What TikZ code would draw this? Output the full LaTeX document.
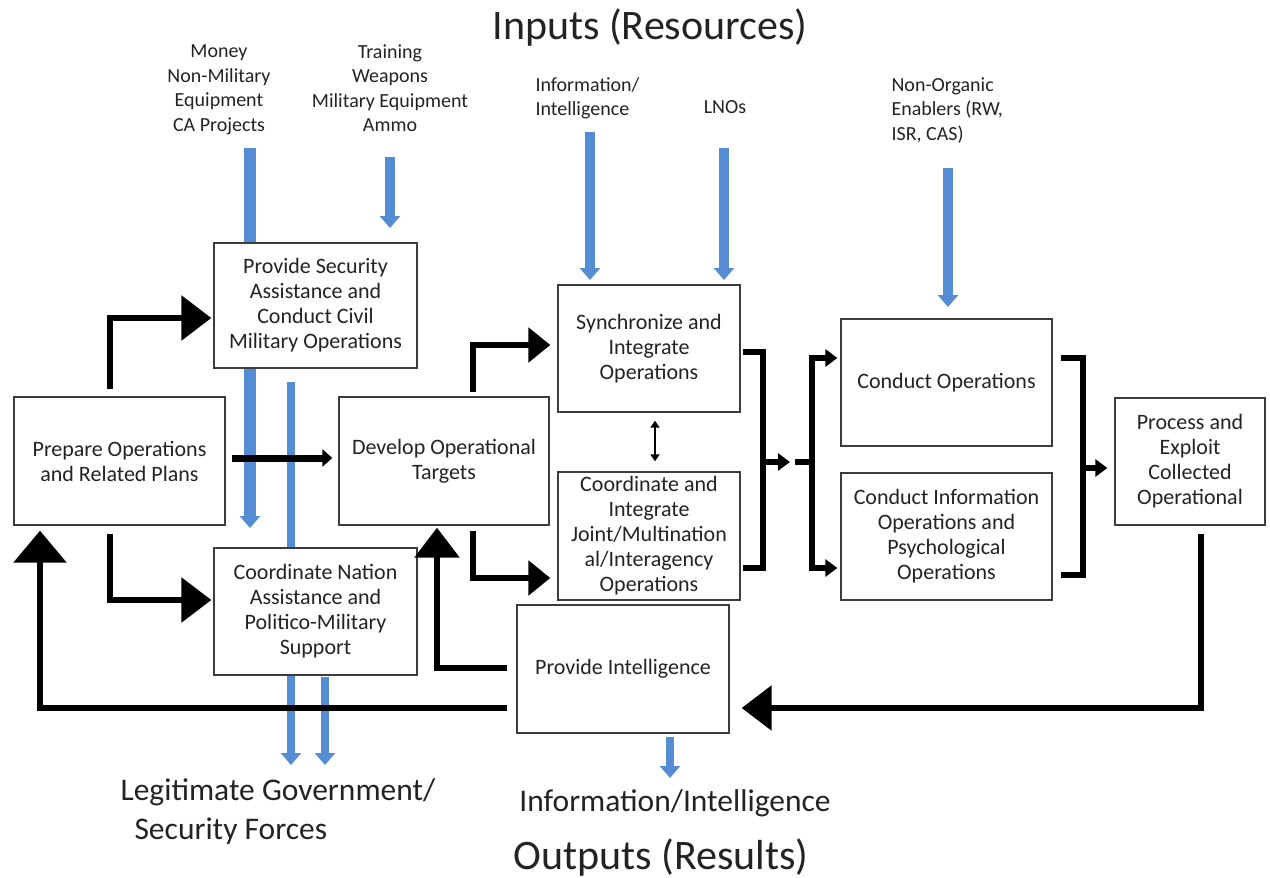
\documentclass[tikz,border=0pt]{standalone}
\usepackage{fontspec}
\setmainfont{Carlito}
\usetikzlibrary{arrows.meta,calc}
\definecolor{inblue}{RGB}{84,141,212}
\definecolor{boxline}{RGB}{60,60,60}
\definecolor{txt}{RGB}{35,35,35}
\begin{document}
\begin{tikzpicture}[x=1pt,y=-1pt,
 box/.style={draw=boxline,line width=1.3pt,fill=white,align=center,inner sep=0pt,text=txt,font=\fontsize{22}{25}\selectfont},
 lab/.style={align=center,text=txt,font=\fontsize{20}{24.5}\selectfont},
 biglab/.style={text=txt,font=\fontsize{31.5}{39}\selectfont},
 title/.style={text=txt,font=\fontsize{42}{48}\selectfont},
 bluearrow/.style={line width=10pt,draw=inblue,-{Triangle[length=12pt,width=20pt]}},
 bigarrow/.style={line width=6pt,-{Triangle[length=30pt,width=44pt]}},
 hugearrow/.style={line width=6pt,-{Triangle[length=32pt,width=52pt]}},
 midarrow/.style={line width=6pt,-{Triangle[length=22pt,width=34pt]}},
 smallarrow/.style={line width=6pt,-{Triangle[length=12pt,width=17pt]}},
 thinarrow/.style={line width=7pt,-{Triangle[length=10pt,width=17pt]}},
 bracket/.style={line width=6pt},
 dblarrow/.style={line width=2pt,{Triangle[length=7pt,width=9pt]}-{Triangle[length=7pt,width=9pt]}}
]
\useasboundingbox (0,0) rectangle (1270,878);

% labels
\node[title] (tin) at (650,28) {Inputs (Resources)};
\node[lab] (lmoney) at (219,90) {Money\\Non-Military\\Equipment\\CA Projects};
\node[lab] (ltrain) at (390,88) {Training\\Weapons\\Military Equipment\\Ammo};
\node[lab,align=left,anchor=west] (linfo) at (532,98.5) {Information/\\Intelligence};
\node[lab] (llno) at (725,107) {LNOs};
\node[lab,align=left,anchor=west] (lnon) at (888,110.5) {Non-Organic\\Enablers (RW,\\ISR, CAS)};

% blue resource arrows
\coordinate (bm1) at (250,148); \coordinate (bm2) at (250,528);
\coordinate (bt1) at (390,157); \coordinate (bt2) at (390,228);
\coordinate (bi1) at (590,132); \coordinate (bi2) at (590,280);
\coordinate (bl1) at (724,148); \coordinate (bl2) at (724,280);
\coordinate (bn1) at (948,168); \coordinate (bn2) at (948,307);
\coordinate (bg1) at (291,382); \coordinate (bg2) at (291,765);
\coordinate (bs1) at (325,677); \coordinate (bs2) at (325,765);
\coordinate (bo1) at (670,737); \coordinate (bo2) at (670,778);
\draw[bluearrow,line width=12pt] (bm1) -- (bm2);
\draw[bluearrow] (bt1) -- (bt2);
\draw[bluearrow] (bi1) -- (bi2);
\draw[bluearrow] (bl1) -- (bl2);
\draw[bluearrow] (bn1) -- (bn2);
\draw[bluearrow,line width=8pt] (bg1) -- (bg2);
\draw[bluearrow,line width=8pt] (bs1) -- (bs2);
\draw[bluearrow,line width=8pt] (bo1) -- (bo2);

% boxes
\node[box,minimum width=211pt,minimum height=128pt] (prep) at (119.5,461) {Prepare Operations\\and Related Plans};
\node[box,minimum width=203pt,minimum height=125pt] (sec) at (315.5,305.5) {Provide Security\\Assistance and\\Conduct Civil\\Military Operations};
\node[box,minimum width=210pt,minimum height=128pt] (dev) at (444,461) {Develop Operational\\Targets};
\node[box,minimum width=203pt,minimum height=127pt] (cna) at (315.5,611.5) {Coordinate Nation\\Assistance and\\Politico-Military\\Support};
\node[box,minimum width=182pt,minimum height=127pt] (sync) at (649,348.5) {Synchronize and\\Integrate\\Operations};
\node[box,minimum width=182pt,minimum height=128pt] (cji) at (649,536) {Coordinate and\\Integrate\\Joint/Multination\\al/Interagency\\Operations};
\node[box,minimum width=212pt,minimum height=128pt] (pint) at (623,669) {Provide Intelligence};
\node[box,minimum width=211pt,minimum height=127pt] (cops) at (946.5,382.5) {Conduct Operations};
\node[box,minimum width=211pt,minimum height=127pt] (cio) at (946.5,536.5) {Conduct Information\\Operations and\\Psychological\\Operations};
\node[box,minimum width=150pt,minimum height=127pt] (proc) at (1190,461.5) {Process and\\Exploit\\Collected\\Operational};

% outputs
\node[biglab,align=left,anchor=west] (lgov) at (117,812) {Legitimate Government/\\\hspace*{14pt}Security Forces};
\node[biglab] (linf) at (675,803) {Information/Intelligence};
\node[title] (tout) at (661,858) {Outputs (Results)};

% black flow connectors
\draw[bigarrow] ([xshift=-9.5pt,yshift=7pt]prep.north) |- ([xshift=-2pt,yshift=-12.5pt]sec.west);
\draw[bigarrow] ([xshift=-9.5pt,yshift=-8pt]prep.south) |- ([xshift=-2pt,yshift=11.5pt]cna.west);
\draw[thinarrow] ([xshift=6pt,yshift=3pt]prep.east) -- ([xshift=-6pt,yshift=3pt]dev.west);
\draw[midarrow] ([xshift=29pt,yshift=4pt]dev.north) |- ([xshift=-7pt,yshift=3.5pt]sync.west);
\draw[midarrow] ([xshift=29pt,yshift=-5pt]dev.south) |- ([xshift=-7pt,yshift=-42pt]cji.west);
\draw[dblarrow] ([xshift=6pt,yshift=-8pt]sync.south) -- ([xshift=6pt,yshift=10pt]cji.north);

\coordinate (j1) at (763,462);
\coordinate (j2) at (790,462);
\coordinate (j3) at (795,462);
\coordinate (j4) at (812,462);
\draw[bracket] ([xshift=2pt,yshift=-3.5pt]sync.east) -| (j1) |- ([xshift=2pt,yshift=-32pt]cji.east);
\draw[smallarrow] (j1) -- (j2);
\draw[bracket] (j3) -- (j4);
\draw[smallarrow] (j4) |- ([xshift=-3pt,yshift=24.5pt]cops.west);
\draw[smallarrow] (j4) |- ([xshift=-3pt,yshift=-31.5pt]cio.west);

\coordinate (k1) at (1083,468);
\draw[bracket] ([xshift=8pt,yshift=24.5pt]cops.east) -| (k1) |- ([xshift=8pt,yshift=-38.5pt]cio.east);
\draw[smallarrow] (k1) -- ([xshift=-7pt,yshift=-6.5pt]proc.west);

\draw[bigarrow] ([xshift=11pt,yshift=-8pt]proc.south) |- ([xshift=12pt,yshift=-39pt]pint.east);
\draw[hugearrow] ([xshift=-9pt,yshift=-39pt]pint.west) -| ([xshift=-79.5pt,yshift=-5pt]prep.south);
\draw[bigarrow] ([xshift=-9pt,yshift=1pt]pint.west) -| ([xshift=-7pt,yshift=-2pt]dev.south);
\end{tikzpicture}
\end{document}
